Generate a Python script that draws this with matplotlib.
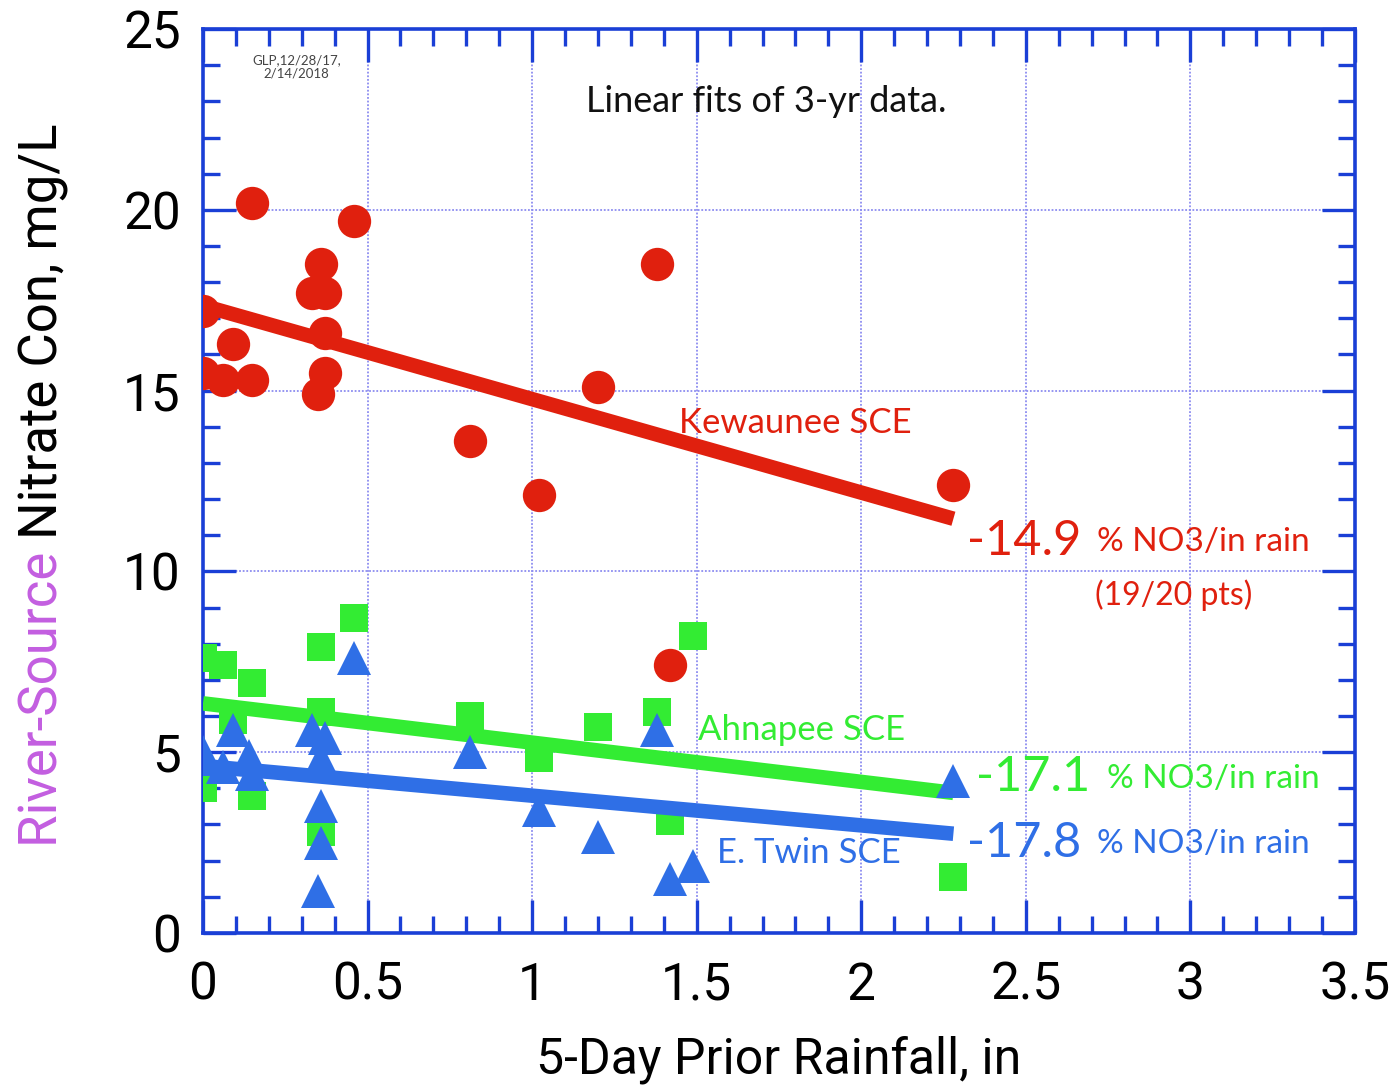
import matplotlib
matplotlib.use("Agg")
import matplotlib.pyplot as plt
import numpy as np

# Kewaunee SCE (red circles)
kew_x = [0.0, 0.0, 0.06, 0.09, 0.15, 0.15, 0.33, 0.37, 0.36, 0.37, 0.37, 0.35, 0.46,
         0.81, 1.02, 1.20, 1.38, 1.42, 2.28]
kew_y = [17.2, 15.5, 15.3, 16.3, 15.3, 20.2, 17.7, 17.7, 18.5, 16.6, 15.5, 14.9, 19.7,
         13.6, 12.1, 15.1, 18.5, 7.4, 12.4]

# Ahnapee SCE (green squares)
ahn_x = [0.0, 0.06, 0.15, 0.15, 0.0, 0.09, 0.36, 0.46, 0.36, 0.36, 0.81, 1.02, 1.20,
         1.38, 1.42, 1.49, 2.28]
ahn_y = [7.6, 7.4, 6.9, 3.8, 4.0, 5.9, 7.9, 8.7, 6.1, 2.8, 6.0, 4.85, 5.7,
         6.1, 3.1, 8.2, 1.55]

# E. Twin SCE (blue triangles)
etw_x = [0.0, 0.0, 0.06, 0.09, 0.14, 0.15, 0.33, 0.37, 0.36, 0.36, 0.36, 0.35, 0.46,
         0.81, 1.02, 1.20, 1.38, 1.42, 1.49, 2.28]
etw_y = [5.0, 4.8, 4.6, 5.6, 4.9, 4.4, 5.6, 5.4, 4.8, 3.5, 2.5, 1.15, 7.6,
         5.0, 3.4, 2.65, 5.6, 1.5, 1.85, 4.2]

# linear fits: intercept and % change per inch of rain
fit_x = [0.0, 2.28]
kew_b, kew_pct = 17.35, -14.9
ahn_b, ahn_pct = 6.35, -17.1
etw_b, etw_pct = 4.62, -17.8

red = "#e0200e"
green = "#33ec33"
blue = "#2f6fe6"
axblue = "#1a3fd6"

def fit(b, pct):
    return [b + b * pct / 100.0 * xx for xx in fit_x]

fig = plt.figure(figsize=(13.95, 10.88), dpi=100)
ax = fig.add_axes([0.1455, 0.1425, 0.8258, 0.8308])

ax.plot(fit_x, fit(ahn_b, ahn_pct), color=green, lw=10.5, solid_capstyle="butt", zorder=3)
ax.plot(ahn_x, ahn_y, "s", color=green, ms=20, mew=0, zorder=4)
ax.plot(fit_x, fit(etw_b, etw_pct), color=blue, lw=10.5, solid_capstyle="butt", zorder=5)
ax.plot(etw_x, etw_y, "^", color=blue, ms=24, mew=0, zorder=6)
ax.plot(fit_x, fit(kew_b, kew_pct), color=red, lw=10.5, solid_capstyle="butt", zorder=7)
ax.plot(kew_x, kew_y, "o", color=red, ms=24, mew=0, zorder=8)

nf = ["Roboto", "DejaVu Sans"]
tf = ["Lato", "DejaVu Sans"]

ax.set_xlim(0, 3.5)
ax.set_ylim(0, 25)
ax.set_xticks(np.arange(0, 3.51, 0.5))
ax.set_xticklabels(["0", "0.5", "1", "1.5", "2", "2.5", "3", "3.5"])
ax.set_yticks(np.arange(0, 26, 5))
ax.set_xticks(np.arange(0, 3.51, 0.1), minor=True)
ax.set_yticks(np.arange(0, 25.1, 1), minor=True)
ax.tick_params(which="both", direction="in", top=True, right=True, color=axblue,
               labelsize=37)
ax.tick_params(axis="x", pad=20)
ax.tick_params(axis="y", pad=16)
ax.tick_params(which="major", length=24, width=2.4)
ax.tick_params(which="minor", length=12, width=2.4)
for lab in ax.get_xticklabels() + ax.get_yticklabels():
    lab.set_family(nf)
for sp in ax.spines.values():
    sp.set_color(axblue)
    sp.set_linewidth(2.6)
ax.grid(True, which="major", color="#8c8cf0", ls=(0, (1, 1)), lw=1.3, zorder=0)

ax.set_xlabel("5-Day Prior Rainfall, in", fontsize=36, labelpad=18, family=nf)

# two-colour y label
t1 = fig.text(0.031, 1 - 847 / 1088, "River-Source ", rotation=90, ha="center", va="bottom",
              fontsize=38, color="#c35ee0", family=nf)
fig.canvas.draw()
bb = t1.get_window_extent()
fig.text(0.031, bb.y1 / fig.bbox.height, "Nitrate Con, mg/L", rotation=90, ha="center",
         va="bottom", fontsize=38, color="black", family=nf)

ax.text(0.285, 23.95, "GLP,12/28/17,\n2/14/2018", fontsize=9.5, ha="center", va="center",
        color="#444444", family=tf, linespacing=1.1)
ax.text(1.71, 23.0, "Linear fits of 3-yr data.", fontsize=26, ha="center", va="center",
        color="#111111", family=tf)

ax.text(1.8, 14.1, "Kewaunee SCE", fontsize=25, color=red, ha="center", va="center",
        family=tf, zorder=10)
ax.text(1.82, 5.6, "Ahnapee SCE", fontsize=25, color=green, ha="center", va="center",
        family=tf, zorder=10)
ax.text(1.84, 2.2, "E. Twin SCE", fontsize=25, color=blue, ha="center", va="center",
        family=tf, zorder=10)

for yy, pct, col in [(10.85, kew_pct, red), (4.3, ahn_pct, green), (2.5, etw_pct, blue)]:
    x0 = 2.32 if col != green else 2.35
    t = ax.text(x0, yy, "%.1f" % pct, fontsize=35, color=col, ha="left", va="center",
                family=tf, zorder=10)
    fig.canvas.draw()
    e = t.get_window_extent()
    xe = ax.transData.inverted().transform((e.x1, e.y0))[0]
    ax.text(xe + 0.05, yy - 0.05, "% NO3/in rain", fontsize=24, color=col, ha="left",
            va="center", family=tf, zorder=10)

ax.text(2.95, 9.35, "(19/20 pts)", fontsize=23, color=red, ha="center", va="center",
        family=tf, zorder=10)

fig.savefig("out.png", dpi=100)
